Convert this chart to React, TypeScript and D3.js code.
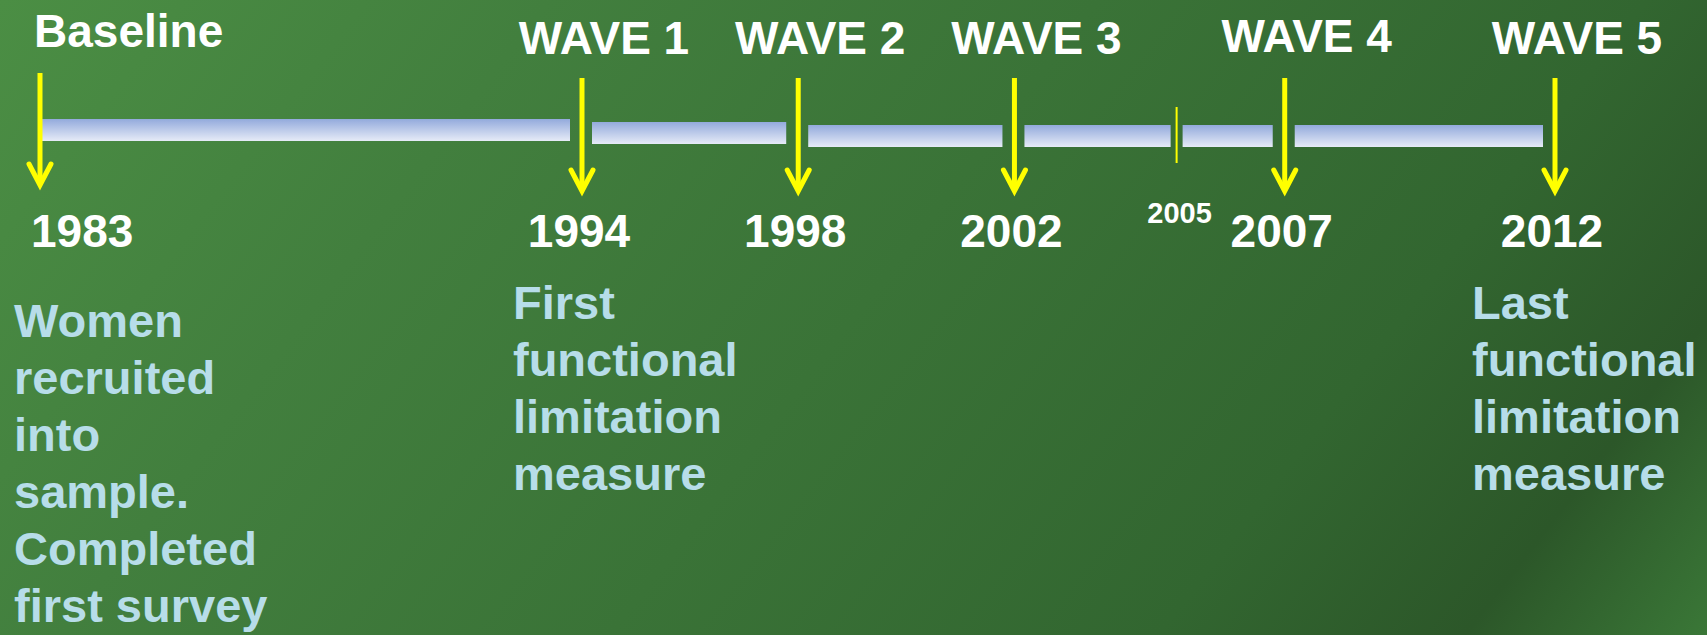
import React from "react";
import * as d3 from "d3";

// timeline data
const waveNames = ["Baseline", "WAVE 1", "WAVE 2", "WAVE 3", "WAVE 4", "WAVE 5"];
const waveYears = [1983, 1994, 1998, 2002, 2007, 2012];
const minorYears = [2005];

const noteYears = [1983, 1994, 2012];
const noteLines = [
    ["Women", "recruited", "into", "sample.", "Completed", "first survey"],
    ["First", "functional", "limitation", "measure"],
    ["Last", "functional", "limitation", "measure"]
];

const layout = {
    width: 1707,
    height: 635,
    left: 40,
    breakX: 582,
    right: 1555
};

const FONT = "'Liberation Sans', Arial, Helvetica, sans-serif";

const App = () => {
    // first stretch (1983-1994) is drawn compressed, like the original slide
    const x = d3
        .scaleLinear()
        .domain([1983, 1994, 2012])
        .range([layout.left, layout.breakX, layout.right]);

    const allYears = [...waveYears, ...minorYears].sort((a, b) => a - b);
    const isWave = (y: number) => waveYears.includes(y);

    const segments = d3.pairs(allYears).map(([a, b], i) => {
        const startPad = i === 0 ? 0 : isWave(a) ? 10 : 6;
        const endPad = isWave(b) ? 12 : 6;
        return {
            x0: x(a) + startPad,
            x1: x(b) - endPad,
            y: 119 + Math.min(i, 2) * 3
        };
    });

    const noteX = (y: number) => Math.min(1472, Math.max(14, x(y) - 69));

    const arrowHead = d3.line();

    return (
        <svg
            width={layout.width}
            height={layout.height}
            style={{ position: "fixed", left: 0, top: 0, display: "block" }}
            fontFamily={FONT}
            fontWeight="bold"
        >
            <defs>
                <linearGradient
                    id="bg"
                    gradientUnits="userSpaceOnUse"
                    x1={0}
                    y1={0}
                    x2={1379}
                    y2={1061}
                >
                    <stop offset="0%" stopColor="#4b8e44" />
                    <stop offset="25%" stopColor="#427f3e" />
                    <stop offset="50%" stopColor="#3a7337" />
                    <stop offset="75%" stopColor="#326630" />
                    <stop offset="89%" stopColor="#2c5729" />
                    <stop offset="100%" stopColor="#3a7737" />
                </linearGradient>
                <linearGradient id="bar" x1="0" y1="0" x2="0" y2="1">
                    <stop offset="0%" stopColor="#93aadc" />
                    <stop offset="100%" stopColor="#e6ebf7" />
                </linearGradient>
            </defs>
            <rect width={layout.width} height={layout.height} fill="url(#bg)" />

            {segments.map((s, i) => (
                <rect
                    key={i}
                    x={s.x0}
                    y={s.y}
                    width={s.x1 - s.x0}
                    height={22}
                    fill="url(#bar)"
                />
            ))}

            {minorYears.map(y => (
                <g key={y}>
                    <line
                        x1={x(y)}
                        x2={x(y)}
                        y1={107}
                        y2={163}
                        stroke="#ffff00"
                        strokeWidth={2}
                    />
                    <text
                        x={x(y) + 3}
                        y={223}
                        fontSize={29}
                        fill="#ffffff"
                        textAnchor="middle"
                    >
                        {y}
                    </text>
                </g>
            ))}

            {waveYears.map((y, i) => {
                const cx = x(y);
                const top = i === 0 ? 73 : 78;
                const tip = i === 0 ? 187 : 193;
                return (
                    <g key={y}>
                        <line
                            x1={cx}
                            x2={cx}
                            y1={top}
                            y2={tip - 3}
                            stroke="#ffff00"
                            strokeWidth={5}
                        />
                        <path
                            d={
                                arrowHead([
                                    [cx - 11, tip - 23],
                                    [cx, tip - 2],
                                    [cx + 11, tip - 23]
                                ]) || ""
                            }
                            fill="none"
                            stroke="#ffff00"
                            strokeWidth={5}
                            strokeLinecap="round"
                            strokeLinejoin="miter"
                        />
                        <text
                            x={i === 0 ? cx - 6 : cx + 22}
                            y={i === 0 ? 47 : i === 4 ? 52 : 54}
                            fontSize={46}
                            fill="#ffffff"
                            textAnchor={i === 0 ? "start" : "middle"}
                        >
                            {waveNames[i]}
                        </text>
                        <text
                            x={i === 0 ? cx - 9 : cx - 3}
                            y={247}
                            fontSize={46}
                            fill="#ffffff"
                            textAnchor={i === 0 ? "start" : "middle"}
                        >
                            {y}
                        </text>
                    </g>
                );
            })}

            {noteYears.map((y, i) => (
                <text
                    key={y}
                    x={noteX(y)}
                    y={i === 0 ? 337 : 319}
                    fontSize={47}
                    fill="#b7dde9"
                >
                    {noteLines[i].map((line, j) => (
                        <tspan key={j} x={noteX(y)} dy={j === 0 ? 0 : 57}>
                            {line}
                        </tspan>
                    ))}
                </text>
            ))}
        </svg>
    );
};

export default App;
